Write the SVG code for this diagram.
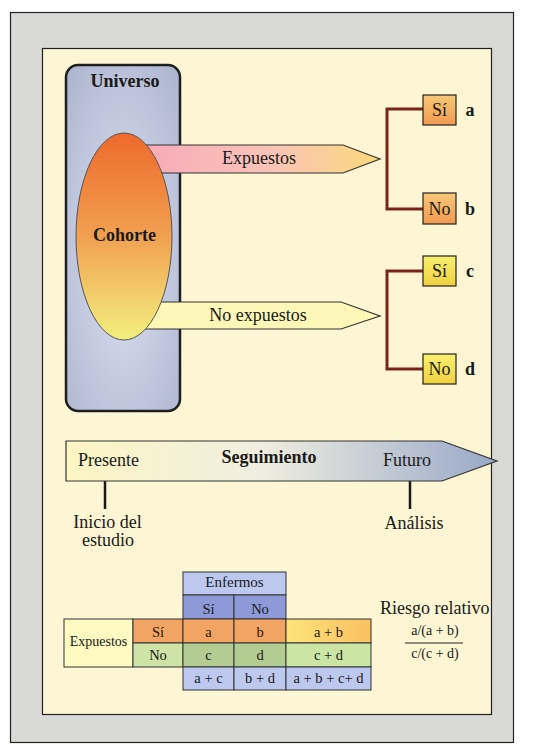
<svg xmlns="http://www.w3.org/2000/svg" width="543" height="748" viewBox="0 0 543 748" font-family="'Liberation Serif', 'DejaVu Serif', serif">
<defs>
<radialGradient id="gUni" cx="0.5" cy="0.55" r="0.7">
<stop offset="0" stop-color="#dde2f4"/><stop offset="1" stop-color="#aeb6cf"/>
</radialGradient>
<linearGradient id="gCoh" x1="0" y1="0" x2="0" y2="1">
<stop offset="0" stop-color="#ee6a2c"/><stop offset="0.5" stop-color="#f1a052"/><stop offset="1" stop-color="#f2f07e"/>
</linearGradient>
<linearGradient id="gExp" x1="0" y1="0" x2="1" y2="0">
<stop offset="0" stop-color="#f7aab8"/><stop offset="0.55" stop-color="#f9c4b8"/><stop offset="1" stop-color="#fbd87a"/>
</linearGradient>
<linearGradient id="gOr" x1="0" y1="0" x2="0" y2="1">
<stop offset="0" stop-color="#f8c878"/><stop offset="1" stop-color="#f09a50"/>
</linearGradient>
<linearGradient id="gYe" x1="0" y1="0" x2="0" y2="1">
<stop offset="0" stop-color="#f8f070"/><stop offset="1" stop-color="#f0d040"/>
</linearGradient>
<linearGradient id="gTime" x1="0" y1="0" x2="1" y2="0">
<stop offset="0" stop-color="#fcf6c4"/><stop offset="0.45" stop-color="#f0eee0"/><stop offset="1" stop-color="#98a8c8"/>
</linearGradient>
<linearGradient id="gAB" x1="0" y1="0" x2="1" y2="0">
<stop offset="0" stop-color="#fde47a"/><stop offset="1" stop-color="#f9c062"/>
</linearGradient>
<style>
text{font-family:"Liberation Serif","DejaVu Serif",serif;fill:#1a1a1a}
.b{font-weight:bold}
.br{fill:none;stroke:#7a2418;stroke-width:3}
.bx{stroke:#222;stroke-width:1.2}
.tc{stroke:#333;stroke-width:1}
</style>
</defs>
<rect x="0" y="0" width="543" height="748" fill="#ffffff"/>
<rect x="10.5" y="12.5" width="503" height="730" fill="#d9d9d6" stroke="#222" stroke-width="1.2"/>
<rect x="42.5" y="48.5" width="449" height="666" fill="#fdf6d4" stroke="#222" stroke-width="1.2"/>

<g id="universo">
<rect x="66" y="65" width="114" height="346" rx="12" fill="url(#gUni)" stroke="#1e1e1e" stroke-width="2.5"/>
<text class="b" x="125" y="87" font-size="18" text-anchor="middle">Universo</text>
</g>

<g id="expuestos">
<polygon points="140,145 343,145 380,159 343,173 140,173" fill="url(#gExp)" stroke="#333" stroke-width="1.2"/>
<text x="259" y="164" font-size="18" text-anchor="middle">Expuestos</text>
</g>
<g id="noexpuestos">
<polygon points="140,302 341,302 380,316 341,329 140,329" fill="#fdf8b8" stroke="#333" stroke-width="1.2"/>
<text x="258" y="321" font-size="18" text-anchor="middle">No expuestos</text>
</g>

<g id="cohorte">
<ellipse cx="124" cy="236.5" rx="48" ry="103.5" fill="url(#gCoh)" stroke="#555" stroke-width="1"/>
<text class="b" x="124.5" y="241" font-size="18" text-anchor="middle">Cohorte</text>
</g>

<g id="connectors">
<polyline class="br" points="423,109 387,109 387,209 423,209"/>
<polyline class="br" points="423,271 387,271 387,369 423,369"/>
<line x1="105" y1="481" x2="105" y2="509" stroke="#1a1a1a" stroke-width="2.5"/>
<line x1="410" y1="481" x2="410" y2="509" stroke="#1a1a1a" stroke-width="2.5"/>
</g>

<g id="si-a">
<rect class="bx" x="423" y="95" width="33" height="30" fill="url(#gOr)"/>
<text x="439.5" y="116" font-size="18" text-anchor="middle">Sí</text>
<text class="b" x="470" y="116" font-size="18" text-anchor="middle">a</text>
</g>
<g id="no-b">
<rect class="bx" x="423" y="193" width="33" height="31" fill="url(#gOr)"/>
<text x="439.5" y="215" font-size="18" text-anchor="middle">No</text>
<text class="b" x="470" y="215" font-size="18" text-anchor="middle">b</text>
</g>
<g id="si-c">
<rect class="bx" x="423" y="256" width="33" height="30" fill="url(#gYe)"/>
<text x="439.5" y="277" font-size="18" text-anchor="middle">Sí</text>
<text class="b" x="470" y="277" font-size="18" text-anchor="middle">c</text>
</g>
<g id="no-d">
<rect class="bx" x="423" y="354" width="33" height="30" fill="url(#gYe)"/>
<text x="439.5" y="375" font-size="18" text-anchor="middle">No</text>
<text class="b" x="470" y="375" font-size="18" text-anchor="middle">d</text>
</g>

<g id="timeline">
<polygon points="66,441 442,441 497,461 442,481 66,481" fill="url(#gTime)" stroke="#333" stroke-width="1.2"/>
<text x="78" y="466" font-size="18">Presente</text>
<text class="b" x="269" y="463" font-size="18" text-anchor="middle">Seguimiento</text>
<text x="383" y="466" font-size="18">Futuro</text>
</g>
<g id="inicio">
<text x="107.5" y="528" font-size="18" text-anchor="middle">Inicio del</text>
<text x="108" y="546" font-size="18" text-anchor="middle">estudio</text>
</g>
<g id="analisis">
<text x="414" y="529" font-size="18" text-anchor="middle">Análisis</text>
</g>

<g id="tabla">
<rect class="tc" x="183" y="572" width="103" height="23" fill="#bcc8ee"/>
<rect class="tc" x="183" y="595" width="51" height="24" fill="#8e9ad8"/>
<rect class="tc" x="234" y="595" width="52" height="24" fill="#8e9ad8"/>
<rect class="tc" x="64" y="619" width="69" height="48" fill="#fdfbc2"/>
<rect class="tc" x="133" y="619" width="50" height="24" fill="#f2a462"/>
<rect class="tc" x="133" y="643" width="50" height="24" fill="#cde4a6"/>
<rect class="tc" x="183" y="619" width="51" height="24" fill="#f2a462"/>
<rect class="tc" x="234" y="619" width="52" height="24" fill="#f2a462"/>
<rect class="tc" x="286" y="619" width="85" height="24" fill="url(#gAB)"/>
<rect class="tc" x="183" y="643" width="51" height="24" fill="#b2cc92"/>
<rect class="tc" x="234" y="643" width="52" height="24" fill="#b2cc92"/>
<rect class="tc" x="286" y="643" width="85" height="24" fill="#cbe6a4"/>
<rect class="tc" x="183" y="667" width="51" height="23" fill="#bcc8ee"/>
<rect class="tc" x="234" y="667" width="52" height="23" fill="#bcc8ee"/>
<rect class="tc" x="286" y="667" width="85" height="23" fill="#bcc8ee"/>
<g font-size="14.5" text-anchor="middle">
<text x="234.5" y="587" font-size="15">Enfermos</text>
<text x="208.5" y="614">Sí</text>
<text x="260" y="614">No</text>
<text x="98.5" y="646" font-size="14">Expuestos</text>
<text x="158" y="637">Sí</text>
<text x="158" y="660">No</text>
<text x="208.5" y="637">a</text>
<text x="260" y="637">b</text>
<text x="328.5" y="637">a + b</text>
<text x="208.5" y="660">c</text>
<text x="260" y="660">d</text>
<text x="328.5" y="660">c + d</text>
<text x="208.5" y="683">a + c</text>
<text x="260" y="683">b + d</text>
<text x="328.5" y="683">a + b + c+ d</text>
</g>
</g>

<g id="riesgo">
<text x="380" y="614" font-size="18">Riesgo relativo</text>
<text x="435" y="635" font-size="14" text-anchor="middle">a/(a + b)</text>
<line x1="405" y1="643" x2="463" y2="643" stroke="#222" stroke-width="1"/>
<text x="435" y="658" font-size="14" text-anchor="middle">c/(c + d)</text>
</g>
</svg>
